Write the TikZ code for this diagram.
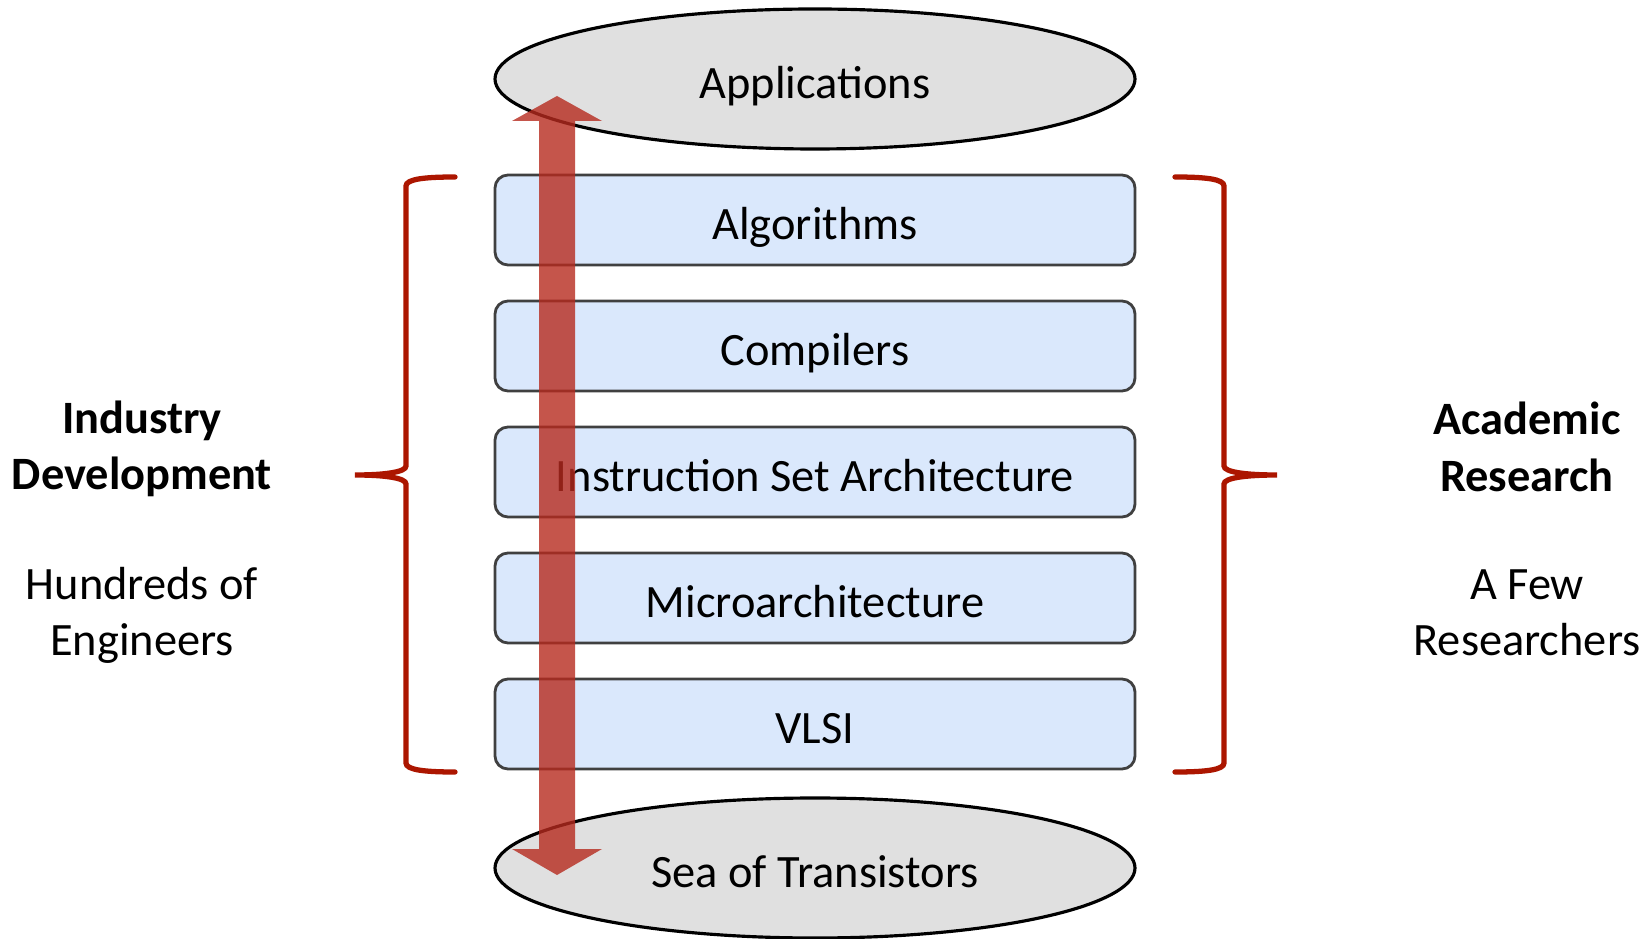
\documentclass[tikz,border=0pt]{standalone}
\usepackage{fontspec}
\setmainfont{Carlito}
\usepackage{tikz}
\usetikzlibrary{shapes}

\definecolor{layer-blue}{RGB}{218,232,252}
\definecolor{cap-gray}{RGB}{224,224,224}
\definecolor{brace-red}{RGB}{172,22,0}
\definecolor{arrow-red}{RGB}{182,42,30}

\begin{document}
\begin{tikzpicture}[
  every node/.style={font=\fontsize{13.2}{16}\selectfont},
  layer/.style={draw=black!75,line width=0.8pt,fill=layer-blue,rounded corners=0.13cm,minimum width=6.4cm,minimum height=0.9cm,text height=13pt,text depth=1.8pt},
  end-cap/.style={draw,line width=0.9pt,fill=cap-gray,ellipse,inner sep=0pt,minimum width=6.4cm,minimum height=1.4cm,text height=13pt,text depth=1.8pt},
  brace/.style={draw=brace-red,line width=1.5pt,line cap=round},
  side-text/.style={align=center}
]
\useasboundingbox (0,0) rectangle (16.52,-9.39);

\node[name=Applications,end-cap] at (8.15,-0.79) {Applications};
\node[name=Sea-of-Transistors,end-cap] at (8.15,-8.68) {Sea of Transistors};

\node[name=Algorithms,layer] at (8.15,-2.20) {Algorithms};
\node[name=Compilers,layer] at (8.15,-3.46) {Compilers};
\node[name=ISA,layer] at (8.15,-4.72) {Instruction Set Architecture};
\node[name=Microarchitecture,layer] at (8.15,-5.98) {Microarchitecture};
\node[name=VLSI,layer] at (8.15,-7.24) {VLSI};

% abstraction arrow
\coordinate (Top-Tip) at (5.57,-0.96);
\coordinate (Bottom-Tip) at (5.57,-8.75);
\fill[arrow-red,opacity=0.8] (Top-Tip) -- ++(0.45,-0.25) -- ++(-0.27,0) -- ([xshift=0.18cm,yshift=0.26cm]Bottom-Tip) -- ++(0.27,0) -- (Bottom-Tip) -- ++(-0.45,0.26) -- ++(0.27,0) -- ([xshift=-0.18cm,yshift=-0.25cm]Top-Tip) -- ++(-0.27,0) -- cycle;

% braces
\draw[brace] (4.55,-1.77) .. controls (4.25,-1.77) and (4.06,-1.79) .. (4.06,-1.86) -- (4.06,-4.66) .. controls (4.06,-4.72) and (3.85,-4.75) .. (3.55,-4.75) .. controls (3.85,-4.75) and (4.06,-4.78) .. (4.06,-4.84) -- (4.06,-7.63) .. controls (4.06,-7.70) and (4.25,-7.72) .. (4.55,-7.72);
\draw[brace] (11.75,-1.77) .. controls (12.05,-1.77) and (12.24,-1.79) .. (12.24,-1.86) -- (12.24,-4.66) .. controls (12.24,-4.72) and (12.45,-4.75) .. (12.77,-4.75) .. controls (12.45,-4.75) and (12.24,-4.78) .. (12.24,-4.84) -- (12.24,-7.63) .. controls (12.24,-7.70) and (12.05,-7.72) .. (11.75,-7.72);

\node[name=Industry-Development,side-text,font=\fontsize{13.2}{16}\selectfont\bfseries] at (1.42,-4.49) {Industry\\Development};
\node[name=Hundreds-of-Engineers,side-text] at (1.42,-6.15) {Hundreds of\\Engineers};
\node[name=Academic-Research,side-text,font=\fontsize{13.2}{16}\selectfont\bfseries] at (15.27,-4.47) {Academic\\Research};
\node[name=A-Few-Researchers,side-text] at (15.27,-6.13) {A Few\\Researchers};
\end{tikzpicture}
\end{document}
